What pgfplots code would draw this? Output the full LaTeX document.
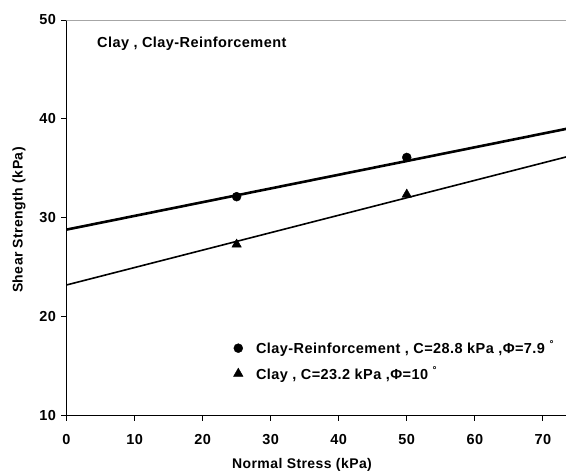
\documentclass[border=0pt]{standalone}
\usepackage{pgfplots}
\pgfplotsset{compat=1.18}
\usepackage{fontspec}
\setmainfont{Liberation Sans}[LetterSpace=3]
\begin{document}
\begin{tikzpicture}[font=\fontsize{14.5bp}{16bp}\selectfont\bfseries]
\begin{axis}[
  at={(0,0)}, anchor=south west,
  scale only axis, width=499.5bp, height=395.5bp,
  xmin=0, xmax=73.4, ymin=10, ymax=50,
  axis x line*=bottom, axis y line*=left,
  axis line style={black, line width=0.9bp, -},
  xtick={0,10,...,70}, ytick={10,20,...,50},
  tick align=outside, major tick length=5bp,
  tick style={black, line width=0.8bp},
  /pgf/number format/assume math mode=true,
  tick label style={font=\fontsize{14.5bp}{16bp}\selectfont\bfseries},
  xticklabel style={yshift=-10bp},
  yticklabel style={xshift=-2bp},
  label style={font=\fontsize{14bp}{16bp}\selectfont\bfseries},
  xlabel={Normal Stress (kPa)}, ylabel={Shear Strength (kPa)},
  xlabel style={at={(axis description cs:0.4715,-0.1252)}, anchor=center},
  ylabel style={at={(axis description cs:-0.0951,0.494)}, anchor=center},
  legend style={draw=none, fill=none, at={(rel axis cs:0.334,0.194)}, anchor=north west, row sep=7bp, inner sep=0pt,
    font=\fontsize{14.5bp}{16bp}\selectfont\bfseries,
    /tikz/every odd column/.append style={column sep=11bp}},
  legend cell align=left,
]
\draw[gray!70, line width=0.9bp] (rel axis cs:0,1) -- (rel axis cs:1,1);
\addplot[black, line width=2.6bp, forget plot] coordinates {(0,28.8) (80,39.90)};
\addplot[black, line width=1.6bp, forget plot] coordinates {(0,23.2) (80,37.31)};
\addplot[only marks, mark=*, mark size=4.5bp, black] coordinates {(25,32.13) (50,36.1)};
\addlegendentry{Clay-Reinforcement , C=28.8 kPa ,Φ=7.9\ \raisebox{6bp}{\fontsize{10bp}{10bp}\selectfont °}}
\addplot[only marks, mark=triangle*, mark size=5.5bp, black] coordinates {(25,27.3) (50,32.35)};
\addlegendentry{Clay , C=23.2 kPa ,Φ=10\ \raisebox{6bp}{\fontsize{10bp}{10bp}\selectfont °}}
\node[anchor=west, inner sep=0pt] at (rel axis cs:0.061,0.939) {Clay , Clay-Reinforcement};
\end{axis}
\pgfresetboundingbox
\path[use as bounding box] (-66.5bp,-55.5bp) rectangle (499.5bp,415.5bp);
\end{tikzpicture}
\end{document}
